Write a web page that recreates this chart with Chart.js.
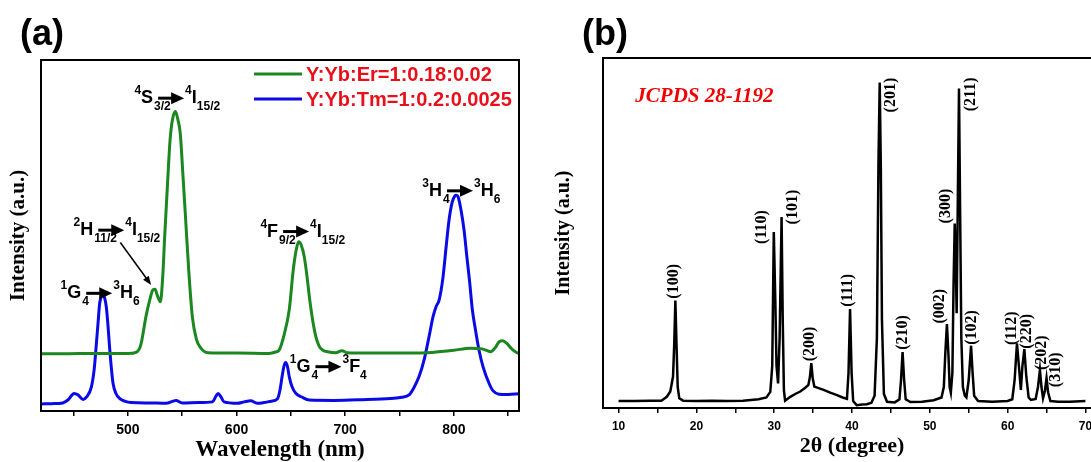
<!DOCTYPE html>
<html lang="en">
<head>
<meta charset="UTF-8">
<title>Upconversion spectra and XRD pattern</title>
<script src="https://cdn.jsdelivr.net/npm/chart.js"></script>
<style>
    html, body {
        margin: 0;
        padding: 0;
        background: #fff;
        overflow: hidden;
    }
    .wrap {
        position: relative;
        width: 1091px;
        height: 462px;
        overflow: hidden;
    }
    canvas {
        position: absolute;
        top: 0;
    }
    #specChart { left: 0; }
    #xrdChart { left: 550px; }
</style>
</head>
<body>
<div class="wrap">
    <canvas id="specChart" width="545" height="462"></canvas>
    <canvas id="xrdChart" width="560" height="462"></canvas>
</div>
<script>
// ---- panel (a): upconversion emission spectra ----
const erWavelength = [420, 440, 470, 500, 508, 512, 516.6, 520, 523, 525, 527, 529.9, 532, 534, 536.5, 538.8, 541, 543.8, 546, 548.2, 550.5, 553, 556, 559.3, 563, 567.2, 573.5, 600, 630, 636, 639.3, 644, 648.5, 652.2, 655, 657.1, 659.5, 662.3, 665, 667, 670, 673, 676, 679.1, 685, 691.4, 697, 702, 720, 760, 780, 800, 815, 826, 834, 838, 842, 845, 849, 853, 857, 860];
const erIntensity = [16.3, 16.3, 16.4, 16.4, 16.8, 19, 26.9, 31.5, 34.5, 34.7, 33, 31.1, 38, 50.6, 65, 77.2, 83, 85.3, 83, 79.1, 68, 55.4, 40, 26.9, 20.5, 17.9, 16.6, 16.5, 16.4, 16.8, 17.4, 22, 28.8, 40.2, 46, 48.2, 47.3, 44, 38, 32.6, 26, 21.2, 18.5, 17.4, 16.8, 16.6, 17.2, 16.6, 16.5, 16.5, 16.7, 17.3, 17.9, 17.7, 16.9, 18, 19.8, 20.0, 19.2, 17.8, 16.8, 16.3];

const tmWavelength = [420, 430, 440, 445, 450.5, 454, 458.8, 462, 466.4, 469, 471, 472.5, 474, 475.5, 477.1, 478.5, 480.1, 481.5, 483.1, 485, 486.3, 489, 492.3, 497, 503, 520, 535, 544.3, 550, 565, 577.9, 581, 583, 585.5, 588.5, 600.8, 607, 613, 619, 625.2, 632, 637.5, 640, 642, 644, 645.3, 647, 648.5, 651, 654.7, 660, 667, 690, 720, 745, 752, 758.8, 763, 768, 773, 777.2, 781, 784, 786.4, 790, 793, 795.6, 798.5, 801, 802.3, 804, 806.5, 809.4, 812, 814.5, 817, 820, 823.2, 827, 832.4, 836, 841.5, 850, 860];
const tmIntensity = [2.0, 2.1, 2.3, 3.2, 5.0, 4.6, 3.3, 4.0, 6.9, 12, 19.3, 25, 30.7, 32.5, 33.0, 32.3, 29.7, 25, 18.3, 11.5, 7.9, 5, 3.6, 2.8, 2.4, 2.3, 2.2, 3.0, 2.3, 2.4, 2.6, 4.2, 5.0, 4.1, 2.6, 2.2, 2.6, 2.9, 2.2, 2.4, 2.8, 3.4, 6, 10, 13.2, 13.8, 12.5, 9.8, 7, 5.0, 4.0, 3.1, 3.0, 3.3, 3.6, 3.9, 4.6, 6.5, 9.8, 15, 21.2, 27, 30, 31.5, 38, 47, 54.4, 59.5, 61.3, 61.5, 61, 57.5, 51.6, 44, 37, 29, 23, 17.3, 12.5, 7.9, 5.8, 4.8, 4.7, 4.9];

const seriesNames = ['Y:Yb:Er=1:0.18:0.02', 'Y:Yb:Tm=1:0.2:0.0025'];

// transition labels: [sup, term, sub, sup, term, sub], anchored at left / baseline
const transitionText = [
    ['4', 'S', '3/2', '4', 'I', '15/2'],
    ['2', 'H', '11/2', '4', 'I', '15/2'],
    ['1', 'G', '4', '3', 'H', '6'],
    ['4', 'F', '9/2', '4', 'I', '15/2'],
    ['3', 'H', '4', '3', 'H', '6'],
    ['1', 'G', '4', '3', 'F', '4']
];
const transitionX = [506, 450, 438, 622, 771, 649];
const transitionY = [87.7, 50.1, 32.1, 49.7, 61.3, 11.2];

// ---- panel (b): XRD pattern ----
const xrdAngle = [10, 12, 14, 15.5, 16.2, 16.65, 17.0, 17.15, 17.3, 17.45, 17.6, 17.8, 18.3, 20, 22, 24, 26, 28, 29.0, 29.5, 29.75, 29.95, 30.15, 30.3, 30.5, 30.7, 30.95, 31.1, 31.25, 31.4, 32.07, 32.7, 33.35, 34.0, 34.4, 34.6, 34.77, 34.95, 35.16, 35.8, 36.35, 37.2, 38.07, 38.8, 39.35, 39.55, 39.75, 39.95, 40.15, 40.6, 41.3, 41.9, 42.5, 42.9, 43.2, 43.4, 43.56, 43.7, 43.85, 44.1, 44.5, 45.5, 46.1, 46.3, 46.5, 46.7, 46.9, 47.5, 49, 50.5, 51.5, 51.8, 52.0, 52.2, 52.4, 52.55, 52.7, 52.9, 53.05, 53.2, 53.35, 53.45, 53.6, 53.75, 53.9, 54.05, 54.25, 54.5, 54.7, 55.0, 55.3, 55.5, 55.7, 56.2, 58, 60, 60.6, 60.9, 61.2, 61.45, 61.7, 61.9, 62.15, 62.4, 62.7, 63.0, 63.6, 63.9, 64.15, 64.35, 64.55, 64.8, 65.0, 65.2, 65.5, 66.5, 68, 70];
const xrdIntensity = [2.0, 2.0, 2.1, 2.1, 3.2, 4.7, 9.0, 18, 30.7, 18, 6, 2.8, 2.1, 2.0, 2.1, 2.0, 2.1, 2.5, 3.0, 4.6, 12, 50.3, 30, 12, 7.0, 20, 54.6, 25, 5, 2.1, 3.2, 4.0, 4.7, 5.8, 6.6, 9, 12.8, 8.5, 6.1, 5.6, 5.2, 4.4, 3.7, 3.0, 2.6, 10, 28.3, 10, 2.0, 0.8, 1.0, 1.1, 1.5, 3.5, 20, 70, 93.0, 70, 25, 4, 1.8, 1.6, 2.5, 8, 16.0, 8, 2.5, 1.7, 1.8, 2.2, 3.0, 6, 16, 24.0, 15, 6, 4.4, 10, 35, 52.7, 40, 27.1, 60, 91.3, 55, 20, 6, 3.5, 3.0, 8, 17.8, 10, 3.5, 2.0, 1.8, 2.0, 2.5, 8, 18.5, 12, 5.2, 12, 16.8, 9, 3, 2.3, 2.6, 6, 10.9, 6, 2.8, 5, 8.5, 4.5, 2.0, 1.8, 1.8, 2.0];

const hklLabels = ['(100)', '(110)', '(101)', '(200)', '(111)', '(201)', '(210)', '(002)', '(300)', '(211)', '(102)', '(112)', '(220)', '(202)', '(310)'];
const hklX = [17.0, 28.3, 32.3, 34.5, 39.4, 44.9, 46.4, 51.2, 51.9, 55.1, 55.3, 60.4, 62.4, 64.3, 66.1];
const hklY = [36.2, 51.7, 57.4, 18.3, 33.6, 89.4, 21.6, 29.1, 57.7, 89.6, 23.0, 22.8, 21.9, 15.8, 10.9];

const SANS = '"Liberation Sans", Arial, sans-serif';
const SERIF = '"Liberation Serif", "Times New Roman", serif';

function toPoints(xs, ys) {
    return xs.map((x, i) => ({ x: x, y: ys[i] }));
}

// black box around the plot area
function drawFrame(chart) {
    const a = chart.chartArea;
    const ctx = chart.ctx;
    ctx.save();
    ctx.strokeStyle = '#000';
    ctx.lineWidth = 2;
    ctx.strokeRect(a.left, a.top, a.right - a.left, a.bottom - a.top);
    ctx.restore();
}

function drawArrowHead(ctx, x0, y0, x1, y1, len, half) {
    const ang = Math.atan2(y1 - y0, x1 - x0);
    ctx.beginPath();
    ctx.moveTo(x1, y1);
    ctx.lineTo(x1 - len * Math.cos(ang) + half * Math.sin(ang), y1 - len * Math.sin(ang) - half * Math.cos(ang));
    ctx.lineTo(x1 - len * Math.cos(ang) - half * Math.sin(ang), y1 - len * Math.sin(ang) + half * Math.cos(ang));
    ctx.closePath();
    ctx.fill();
}

function drawTransition(ctx, x, y, t) {
    const big = 'bold 18px ' + SANS;
    const small = 'bold 12px ' + SANS;
    ctx.fillStyle = '#000';
    ctx.strokeStyle = '#000';
    ctx.textAlign = 'left';
    ctx.textBaseline = 'alphabetic';
    let cx = x;
    ctx.font = small;
    ctx.fillText(t[0], cx, y - 9);
    cx += ctx.measureText(t[0]).width;
    ctx.font = big;
    ctx.fillText(t[1], cx, y);
    cx += ctx.measureText(t[1]).width;
    ctx.font = small;
    ctx.fillText(t[2], cx + 1, y + 7);
    // reaction arrow
    const ax = cx + 5, ay = y - 5;
    ctx.lineWidth = 3;
    ctx.beginPath();
    ctx.moveTo(ax, ay);
    ctx.lineTo(ax + 15, ay);
    ctx.stroke();
    drawArrowHead(ctx, ax, ay, ax + 26, ay, 13, 6);
    cx = ax + 27;
    ctx.font = small;
    ctx.fillText(t[3], cx, y - 9);
    cx += ctx.measureText(t[3]).width;
    ctx.font = big;
    ctx.fillText(t[4], cx, y);
    cx += ctx.measureText(t[4]).width;
    ctx.font = small;
    ctx.fillText(t[5], cx, y + 7);
}

const specDecor = {
    id: 'specDecor',
    afterDraw(chart) {
        const ctx = chart.ctx;
        const xs = chart.scales.x, ys = chart.scales.y;
        const a = chart.chartArea;
        ctx.save();
        // panel tag
        ctx.fillStyle = '#000';
        ctx.font = 'bold 36px ' + SANS;
        ctx.textAlign = 'left';
        ctx.textBaseline = 'alphabetic';
        ctx.fillText('(a)', 20, 45);

        // legend
        chart.data.datasets.forEach((ds, i) => {
            const ly = a.top + 14 + i * 25;
            ctx.strokeStyle = ds.borderColor;
            ctx.lineWidth = 3;
            ctx.beginPath();
            ctx.moveTo(a.left + 213, ly);
            ctx.lineTo(a.left + 261, ly);
            ctx.stroke();
            ctx.fillStyle = '#e8101a';
            ctx.font = 'bold 20px ' + SANS;
            ctx.textBaseline = 'middle';
            ctx.fillText(ds.label, a.left + 265, ly + 1);
        });

        // transition labels
        transitionText.forEach((t, i) => {
            drawTransition(ctx, xs.getPixelForValue(transitionX[i]), ys.getPixelForValue(transitionY[i]), t);
        });

        // pointer from the 2H11/2 label down to its shoulder
        const p0x = xs.getPixelForValue(493), p0y = ys.getPixelForValue(48.0);
        const p1x = xs.getPixelForValue(521.4), p1y = ys.getPixelForValue(35.9);
        ctx.strokeStyle = '#000';
        ctx.fillStyle = '#000';
        ctx.lineWidth = 1.5;
        ctx.beginPath();
        ctx.moveTo(p0x, p0y);
        ctx.lineTo(p1x - 5, p1y - 7);
        ctx.stroke();
        drawArrowHead(ctx, p0x, p0y, p1x, p1y, 9, 3.5);
        ctx.restore();
        drawFrame(chart);
    }
};

const xrdDecor = {
    id: 'xrdDecor',
    afterDraw(chart) {
        const ctx = chart.ctx;
        const xs = chart.scales.x, ys = chart.scales.y;
        ctx.save();
        ctx.fillStyle = '#000';
        ctx.font = 'bold 36px ' + SANS;
        ctx.textAlign = 'left';
        ctx.textBaseline = 'alphabetic';
        ctx.fillText('(b)', 32, 45);

        ctx.fillStyle = '#f00000';
        ctx.font = 'italic bold 21px ' + SERIF;
        ctx.fillText('JCPDS 28-1192', xs.getPixelForValue(12.15), ys.getPixelForValue(87.3));

        ctx.fillStyle = '#000';
        ctx.font = 'bold 16px ' + SERIF;
        ctx.textAlign = 'center';
        ctx.textBaseline = 'middle';
        hklLabels.forEach((lab, i) => {
            ctx.save();
            ctx.translate(xs.getPixelForValue(hklX[i]), ys.getPixelForValue(hklY[i]));
            ctx.rotate(-Math.PI / 2);
            ctx.fillText(lab, 0, 1);
            ctx.restore();
        });
        ctx.restore();
        drawFrame(chart);
    }
};

new Chart(document.getElementById('specChart'), {
    type: 'line',
    data: {
        datasets: [
            {
                label: seriesNames[0],
                data: toPoints(erWavelength, erIntensity),
                borderColor: '#1b871f',
                borderWidth: 3,
                pointRadius: 0,
                cubicInterpolationMode: 'monotone',
                fill: false
            },
            {
                label: seriesNames[1],
                data: toPoints(tmWavelength, tmIntensity),
                borderColor: '#0a0ae6',
                borderWidth: 3,
                pointRadius: 0,
                cubicInterpolationMode: 'monotone',
                fill: false
            }
        ]
    },
    options: {
        responsive: false,
        animation: false,
        layout: { padding: { left: 0, top: 60, right: 26, bottom: 0 } },
        plugins: { legend: { display: false }, tooltip: { enabled: false } },
        scales: {
            x: {
                type: 'linear',
                min: 420,
                max: 860,
                afterFit: s => { s.height = 51; },
                grid: { drawOnChartArea: false, tickLength: 5, color: '#000', lineWidth: 1.5 },
                border: { display: false },
                ticks: {
                    stepSize: 50,
                    includeBounds: false,
                    autoSkip: false,
                    maxRotation: 0,
                    padding: 6,
                    color: '#000',
                    font: { family: SANS, size: 14, weight: 'bold' },
                    callback: v => (v % 100 === 0 ? v : '')
                },
                title: {
                    display: true,
                    text: 'Wavelength (nm)',
                    color: '#000',
                    font: { family: SERIF, size: 23, weight: 'bold', lineHeight: 1 },
                    padding: { top: 0, bottom: 0.5 }
                }
            },
            y: {
                min: 0,
                max: 100,
                afterFit: s => { s.width = 41; },
                grid: { display: false },
                border: { display: false },
                ticks: { display: false },
                title: {
                    display: true,
                    text: 'Intensity (a.u.)',
                    color: '#000',
                    font: { family: SERIF, size: 21, weight: 'bold', lineHeight: 1 },
                    padding: { top: 8.5, bottom: 0 }
                }
            }
        }
    },
    plugins: [specDecor]
});

new Chart(document.getElementById('xrdChart'), {
    type: 'line',
    data: {
        datasets: [
            {
                label: 'XRD',
                data: toPoints(xrdAngle, xrdIntensity),
                borderColor: '#000',
                borderWidth: 2.5,
                pointRadius: 0,
                tension: 0,
                fill: false
            }
        ]
    },
    options: {
        responsive: false,
        animation: false,
        layout: { padding: { left: 0, top: 58, right: 9, bottom: 0 } },
        plugins: { legend: { display: false }, tooltip: { enabled: false } },
        scales: {
            x: {
                type: 'linear',
                min: 8,
                max: 72,
                afterFit: s => { s.height = 54; },
                grid: { drawOnChartArea: false, tickLength: 5, color: '#000', lineWidth: 1.5 },
                border: { display: false },
                ticks: {
                    stepSize: 5,
                    includeBounds: false,
                    autoSkip: false,
                    maxRotation: 0,
                    padding: 6,
                    color: '#000',
                    font: { family: SANS, size: 12, weight: 'bold' },
                    callback: v => (v % 10 === 0 ? v : '')
                },
                title: {
                    display: true,
                    text: '2θ (degree)',
                    color: '#000',
                    font: { family: SERIF, size: 22, weight: 'bold', lineHeight: 1 },
                    padding: { top: 0, bottom: 5 }
                }
            },
            y: {
                min: 0,
                max: 100,
                afterFit: s => { s.width = 53; },
                grid: { display: false },
                border: { display: false },
                ticks: { display: false },
                title: {
                    display: true,
                    text: 'Intensity (a.u.)',
                    color: '#000',
                    font: { family: SERIF, size: 20, weight: 'bold', lineHeight: 1 },
                    padding: { top: 3.8, bottom: 0 }
                }
            }
        }
    },
    plugins: [xrdDecor]
});
</script>
</body>
</html>
